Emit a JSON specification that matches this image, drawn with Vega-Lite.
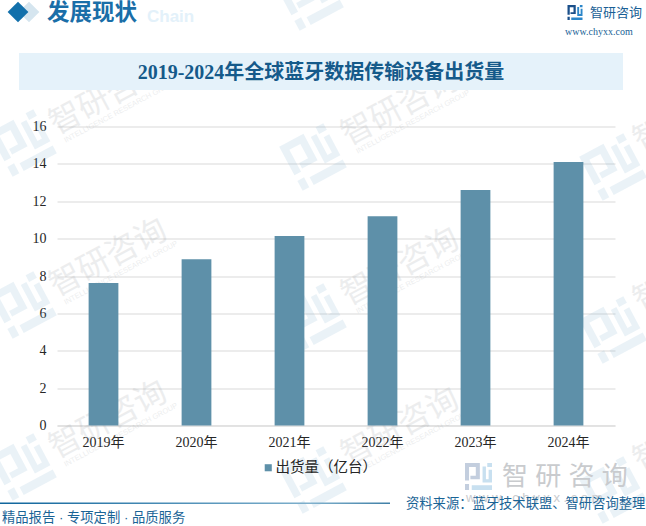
{
  "$schema": "https://vega.github.io/schema/vega-lite/v6.json",
  "width": 558,
  "height": 299,
  "autosize": "none",
  "padding": {"left": 57, "top": 126.5, "right": 31, "bottom": 100.5},
  "background": "#ffffff",
  "config": {
    "view": {"stroke": null},
    "font": "Liberation Sans, Noto Sans CJK SC"
  },
  "datasets": {
    "shipments": [
      {"year": "2019年", "value": 7.62, "series": "出货量（亿台）"},
      {"year": "2020年", "value": 8.9, "series": "出货量（亿台）"},
      {"year": "2021年", "value": 10.14, "series": "出货量（亿台）"},
      {"year": "2022年", "value": 11.2, "series": "出货量（亿台）"},
      {"year": "2023年", "value": 12.6, "series": "出货量（亿台）"},
      {"year": "2024年", "value": 14.1, "series": "出货量（亿台）"}
    ],
    "brand": [{"label": "智研咨询"}],
    "group": [{"label": "INTELLIGENCE RESEARCH GROUP"}],
    "one": [{"label": ""}]
  },
  "layer": [
    {"data": {"name": "brand"}, "mark": {"type": "text", "x": 51, "y": -30.5, "angle": -28, "fontSize": 32, "color": "#8f969c", "opacity": 0.16}, "encoding": {"text": {"field": "label"}}},
    {"data": {"name": "brand"}, "mark": {"type": "text", "x": 51, "y": 131.5, "angle": -28, "fontSize": 32, "color": "#8f969c", "opacity": 0.16}, "encoding": {"text": {"field": "label"}}},
    {"data": {"name": "brand"}, "mark": {"type": "text", "x": 51, "y": 293.5, "angle": -28, "fontSize": 32, "color": "#8f969c", "opacity": 0.16}, "encoding": {"text": {"field": "label"}}},
    {"data": {"name": "brand"}, "mark": {"type": "text", "x": 343, "y": -19.5, "angle": -28, "fontSize": 32, "color": "#8f969c", "opacity": 0.16}, "encoding": {"text": {"field": "label"}}},
    {"data": {"name": "brand"}, "mark": {"type": "text", "x": 343, "y": 140.5, "angle": -28, "fontSize": 32, "color": "#8f969c", "opacity": 0.16}, "encoding": {"text": {"field": "label"}}},
    {"data": {"name": "brand"}, "mark": {"type": "text", "x": 343, "y": 300.5, "angle": -28, "fontSize": 32, "color": "#8f969c", "opacity": 0.16}, "encoding": {"text": {"field": "label"}}},
    {"data": {"name": "brand"}, "mark": {"type": "text", "x": 635, "y": -13.5, "angle": -28, "fontSize": 32, "color": "#8f969c", "opacity": 0.16}, "encoding": {"text": {"field": "label"}}},
    {"data": {"name": "brand"}, "mark": {"type": "text", "x": 635, "y": 146.5, "angle": -28, "fontSize": 32, "color": "#8f969c", "opacity": 0.16}, "encoding": {"text": {"field": "label"}}},
    {"data": {"name": "brand"}, "mark": {"type": "text", "x": 635, "y": 306.5, "angle": -28, "fontSize": 32, "color": "#8f969c", "opacity": 0.16}, "encoding": {"text": {"field": "label"}}},
    {"data": {"name": "group"}, "mark": {"type": "text", "x": 64, "y": -15.5, "angle": -28, "fontSize": 7.5, "color": "#8f969c", "opacity": 0.16}, "encoding": {"text": {"field": "label"}}},
    {"data": {"name": "group"}, "mark": {"type": "text", "x": 64, "y": 146.5, "angle": -28, "fontSize": 7.5, "color": "#8f969c", "opacity": 0.16}, "encoding": {"text": {"field": "label"}}},
    {"data": {"name": "group"}, "mark": {"type": "text", "x": 64, "y": 308.5, "angle": -28, "fontSize": 7.5, "color": "#8f969c", "opacity": 0.16}, "encoding": {"text": {"field": "label"}}},
    {"data": {"name": "group"}, "mark": {"type": "text", "x": 356, "y": -4.5, "angle": -28, "fontSize": 7.5, "color": "#8f969c", "opacity": 0.16}, "encoding": {"text": {"field": "label"}}},
    {"data": {"name": "group"}, "mark": {"type": "text", "x": 356, "y": 155.5, "angle": -28, "fontSize": 7.5, "color": "#8f969c", "opacity": 0.16}, "encoding": {"text": {"field": "label"}}},
    {"data": {"name": "group"}, "mark": {"type": "text", "x": 356, "y": 315.5, "angle": -28, "fontSize": 7.5, "color": "#8f969c", "opacity": 0.16}, "encoding": {"text": {"field": "label"}}},
    {"data": {"name": "one"}, "mark": {"type": "point", "shape": "M-1 -1H0.1V0.2H-0.6V-0.05H-0.2V-0.7H-0.7V0.3H-1Z M-1 0.55H-0.7V1H-1Z M0.65 -1H1V-0.7H0.65Z M0.3 -0.75H0.55V0.2H0.75V-0.5H1V0.45H0.3Z M-0.5 0.65H1V1H-0.5Z", "x": -34, "y": 16.5, "angle": -28, "size": 2500, "filled": true, "strokeWidth": 0, "color": "#7fb0d0", "opacity": 0.16}, "encoding": {}},
    {"data": {"name": "one"}, "mark": {"type": "point", "shape": "M-1 -1H0.1V0.2H-0.6V-0.05H-0.2V-0.7H-0.7V0.3H-1Z M-1 0.55H-0.7V1H-1Z M0.65 -1H1V-0.7H0.65Z M0.3 -0.75H0.55V0.2H0.75V-0.5H1V0.45H0.3Z M-0.5 0.65H1V1H-0.5Z", "x": -34, "y": 178.5, "angle": -28, "size": 2500, "filled": true, "strokeWidth": 0, "color": "#7fb0d0", "opacity": 0.16}, "encoding": {}},
    {"data": {"name": "one"}, "mark": {"type": "point", "shape": "M-1 -1H0.1V0.2H-0.6V-0.05H-0.2V-0.7H-0.7V0.3H-1Z M-1 0.55H-0.7V1H-1Z M0.65 -1H1V-0.7H0.65Z M0.3 -0.75H0.55V0.2H0.75V-0.5H1V0.45H0.3Z M-0.5 0.65H1V1H-0.5Z", "x": -34, "y": 340.5, "angle": -28, "size": 2500, "filled": true, "strokeWidth": 0, "color": "#7fb0d0", "opacity": 0.16}, "encoding": {}},
    {"data": {"name": "one"}, "mark": {"type": "point", "shape": "M-1 -1H0.1V0.2H-0.6V-0.05H-0.2V-0.7H-0.7V0.3H-1Z M-1 0.55H-0.7V1H-1Z M0.65 -1H1V-0.7H0.65Z M0.3 -0.75H0.55V0.2H0.75V-0.5H1V0.45H0.3Z M-0.5 0.65H1V1H-0.5Z", "x": 253, "y": -129.5, "angle": -28, "size": 2500, "filled": true, "strokeWidth": 0, "color": "#7fb0d0", "opacity": 0.16}, "encoding": {}},
    {"data": {"name": "one"}, "mark": {"type": "point", "shape": "M-1 -1H0.1V0.2H-0.6V-0.05H-0.2V-0.7H-0.7V0.3H-1Z M-1 0.55H-0.7V1H-1Z M0.65 -1H1V-0.7H0.65Z M0.3 -0.75H0.55V0.2H0.75V-0.5H1V0.45H0.3Z M-0.5 0.65H1V1H-0.5Z", "x": 256, "y": 30.5, "angle": -28, "size": 2500, "filled": true, "strokeWidth": 0, "color": "#7fb0d0", "opacity": 0.16}, "encoding": {}},
    {"data": {"name": "one"}, "mark": {"type": "point", "shape": "M-1 -1H0.1V0.2H-0.6V-0.05H-0.2V-0.7H-0.7V0.3H-1Z M-1 0.55H-0.7V1H-1Z M0.65 -1H1V-0.7H0.65Z M0.3 -0.75H0.55V0.2H0.75V-0.5H1V0.45H0.3Z M-0.5 0.65H1V1H-0.5Z", "x": 256, "y": 190.5, "angle": -28, "size": 2500, "filled": true, "strokeWidth": 0, "color": "#7fb0d0", "opacity": 0.16}, "encoding": {}},
    {"data": {"name": "one"}, "mark": {"type": "point", "shape": "M-1 -1H0.1V0.2H-0.6V-0.05H-0.2V-0.7H-0.7V0.3H-1Z M-1 0.55H-0.7V1H-1Z M0.65 -1H1V-0.7H0.65Z M0.3 -0.75H0.55V0.2H0.75V-0.5H1V0.45H0.3Z M-0.5 0.65H1V1H-0.5Z", "x": 256, "y": 353.5, "angle": -28, "size": 2500, "filled": true, "strokeWidth": 0, "color": "#7fb0d0", "opacity": 0.16}, "encoding": {}},
    {"data": {"name": "one"}, "mark": {"type": "point", "shape": "M-1 -1H0.1V0.2H-0.6V-0.05H-0.2V-0.7H-0.7V0.3H-1Z M-1 0.55H-0.7V1H-1Z M0.65 -1H1V-0.7H0.65Z M0.3 -0.75H0.55V0.2H0.75V-0.5H1V0.45H0.3Z M-0.5 0.65H1V1H-0.5Z", "x": 556, "y": 40.5, "angle": -28, "size": 2500, "filled": true, "strokeWidth": 0, "color": "#7fb0d0", "opacity": 0.16}, "encoding": {}},
    {"data": {"name": "one"}, "mark": {"type": "point", "shape": "M-1 -1H0.1V0.2H-0.6V-0.05H-0.2V-0.7H-0.7V0.3H-1Z M-1 0.55H-0.7V1H-1Z M0.65 -1H1V-0.7H0.65Z M0.3 -0.75H0.55V0.2H0.75V-0.5H1V0.45H0.3Z M-0.5 0.65H1V1H-0.5Z", "x": 556, "y": 203.5, "angle": -28, "size": 2500, "filled": true, "strokeWidth": 0, "color": "#7fb0d0", "opacity": 0.16}, "encoding": {}},
    {"data": {"name": "one"}, "mark": {"type": "point", "shape": "M-1 -1H0.1V0.2H-0.6V-0.05H-0.2V-0.7H-0.7V0.3H-1Z M-1 0.55H-0.7V1H-1Z M0.65 -1H1V-0.7H0.65Z M0.3 -0.75H0.55V0.2H0.75V-0.5H1V0.45H0.3Z M-0.5 0.65H1V1H-0.5Z", "x": 556, "y": 363.5, "angle": -28, "size": 2500, "filled": true, "strokeWidth": 0, "color": "#7fb0d0", "opacity": 0.16}, "encoding": {}},
    {"data": {"name": "one"}, "mark": {"type": "rect", "x": -38, "x2": 566, "y": -73.5, "y2": -36.5, "color": "#e5f2fa"}, "encoding": {}},
    {"data": {"name": "one"}, "mark": {"type": "rule", "x": -57, "x2": 496, "y": -94.5, "color": "#0f659c", "strokeWidth": 1.5}, "encoding": {}},
    {
      "data": {"name": "one"},
      "mark": {
        "type": "rect", "x": -57, "x2": 333, "y": 376, "y2": 377.5,
        "color": {
          "x1": 0, "y1": 0, "x2": 1, "y2": 0,
          "gradient": "linear",
          "stops": [
            {"offset": 0, "color": "#0f659c"},
            {"offset": 0.8, "color": "#7fb0cc"},
            {"offset": 1, "color": "#3f7fa6"}
          ]
        }
      },
      "encoding": {}
    },
    {"data": {"name": "one"}, "mark": {"type": "point", "shape": "diamond", "x": -28, "y": -114.5, "size": 430, "filled": true, "opacity": 1, "color": "#d5e5ef"}, "encoding": {}},
    {"data": {"name": "one"}, "mark": {"type": "point", "shape": "diamond", "x": -39, "y": -114.5, "size": 430, "filled": true, "opacity": 1, "color": "#1270ab"}, "encoding": {}},
    {"data": {"values": [{"label": "Chain"}]}, "mark": {"type": "text", "x": 90, "y": -110, "align": "left", "fontSize": 17, "fontWeight": "bold", "color": "#e3f1fa"}, "encoding": {"text": {"field": "label"}}},
    {"data": {"values": [{"label": "发展现状"}]}, "mark": {"type": "text", "x": -10, "y": -114, "align": "left", "fontSize": 22.5, "fontWeight": "bold", "color": "#1a6ea8"}, "encoding": {"text": {"field": "label"}}},
    {"data": {"values": [{"label": "2019-2024年全球蓝牙数据传输设备出货量"}]}, "mark": {"type": "text", "x": 264, "y": -53.5, "fontSize": 20, "fontWeight": "bold", "font": "Liberation Serif, Noto Sans CJK SC", "color": "#155a8a"}, "encoding": {"text": {"field": "label"}}},
    {"data": {"name": "brand"}, "mark": {"type": "text", "x": 533, "y": -113.5, "align": "left", "fontSize": 13, "color": "#1a5f96"}, "encoding": {"text": {"field": "label"}}},
    {"data": {"values": [{"label": "www.chyxx.com"}]}, "mark": {"type": "text", "x": 508, "y": -94.5, "align": "left", "fontSize": 10, "font": "Liberation Serif", "color": "#1a5f96"}, "encoding": {"text": {"field": "label"}}},
    {"data": {"name": "one"}, "mark": {"type": "point", "shape": "M-1 -1H0.1V0.2H-0.6V-0.05H-0.2V-0.7H-0.7V0.3H-1Z M-1 0.55H-0.7V1H-1Z", "x": 518, "y": -114, "size": 225, "filled": true, "strokeWidth": 0, "opacity": 1, "color": "#1a4f8a"}, "encoding": {}},
    {"data": {"name": "one"}, "mark": {"type": "point", "shape": "M0.65 -1H1V-0.7H0.65Z M0.3 -0.75H0.55V0.2H0.75V-0.5H1V0.45H0.3Z M-0.5 0.65H1V1H-0.5Z", "x": 518, "y": -114, "size": 225, "filled": true, "strokeWidth": 0, "opacity": 1, "color": "#2b86c9"}, "encoding": {}},
    {"data": {"values": [{"label": "智 研 咨 询"}]}, "mark": {"type": "text", "x": 445, "y": 350, "align": "left", "fontSize": 26, "color": "#c9cbce"}, "encoding": {"text": {"field": "label"}}},
    {"data": {"values": [{"label": "w w w . c h y x x . c o m"}]}, "mark": {"type": "text", "x": 409, "y": 371.5, "align": "left", "fontSize": 13, "color": "#c9cbce"}, "encoding": {"text": {"field": "label"}}},
    {"data": {"name": "one"}, "mark": {"type": "point", "shape": "M-1 -1H0.1V0.2H-0.6V-0.05H-0.2V-0.7H-0.7V0.3H-1Z M-1 0.55H-0.7V1H-1Z", "x": 421.5, "y": 350, "size": 729, "filled": true, "strokeWidth": 0, "opacity": 1, "color": "#c3cede"}, "encoding": {}},
    {"data": {"name": "one"}, "mark": {"type": "point", "shape": "M0.65 -1H1V-0.7H0.65Z M0.3 -0.75H0.55V0.2H0.75V-0.5H1V0.45H0.3Z M-0.5 0.65H1V1H-0.5Z", "x": 421.5, "y": 350, "size": 729, "filled": true, "strokeWidth": 0, "opacity": 1, "color": "#c8e0f0"}, "encoding": {}},
    {"data": {"values": [{"label": "精品报告 · 专项定制 · 品质服务"}]}, "mark": {"type": "text", "x": -55, "y": 391, "align": "left", "fontSize": 13.3, "color": "#1a6496"}, "encoding": {"text": {"field": "label"}}},
    {"data": {"values": [{"label": "资料来源：蓝牙技术联盟、智研咨询整理"}]}, "mark": {"type": "text", "x": 349, "y": 377.5, "align": "left", "fontSize": 13.3, "color": "#1a6496"}, "encoding": {"text": {"field": "label"}}},
    {
      "data": {"name": "shipments"},
      "mark": {"type": "bar"},
      "encoding": {
        "x": {
          "field": "year",
          "type": "nominal",
          "title": null,
          "scale": {"paddingInner": 0.68, "paddingOuter": 0.34},
          "axis": {
            "labelAngle": 0,
            "labelFontSize": 14,
            "labelFont": "Liberation Serif, Noto Sans CJK SC",
            "labelColor": "#262626",
            "labelPadding": 10,
            "ticks": false,
            "domainColor": "#d9d9d9",
            "grid": false
          }
        },
        "y": {
          "field": "value",
          "type": "quantitative",
          "title": null,
          "scale": {"domain": [0, 16]},
          "axis": {
            "values": [0, 2, 4, 6, 8, 10, 12, 14, 16],
            "labelFontSize": 14,
            "labelFont": "Liberation Serif, Noto Sans CJK SC",
            "labelColor": "#262626",
            "labelPadding": 11,
            "ticks": false,
            "domain": false,
            "gridColor": "#d9d9d9"
          }
        },
        "color": {
          "field": "series",
          "type": "nominal",
          "title": null,
          "scale": {"range": ["#5e90a9"]},
          "legend": {
            "orient": "none",
            "legendX": 204,
            "legendY": 334,
            "symbolType": "square",
            "symbolSize": 50,
            "labelFontSize": 14.5,
            "labelColor": "#262626",
            "labelOffset": 0,
            "labelLimit": 200
          }
        }
      }
    }
  ]
}
